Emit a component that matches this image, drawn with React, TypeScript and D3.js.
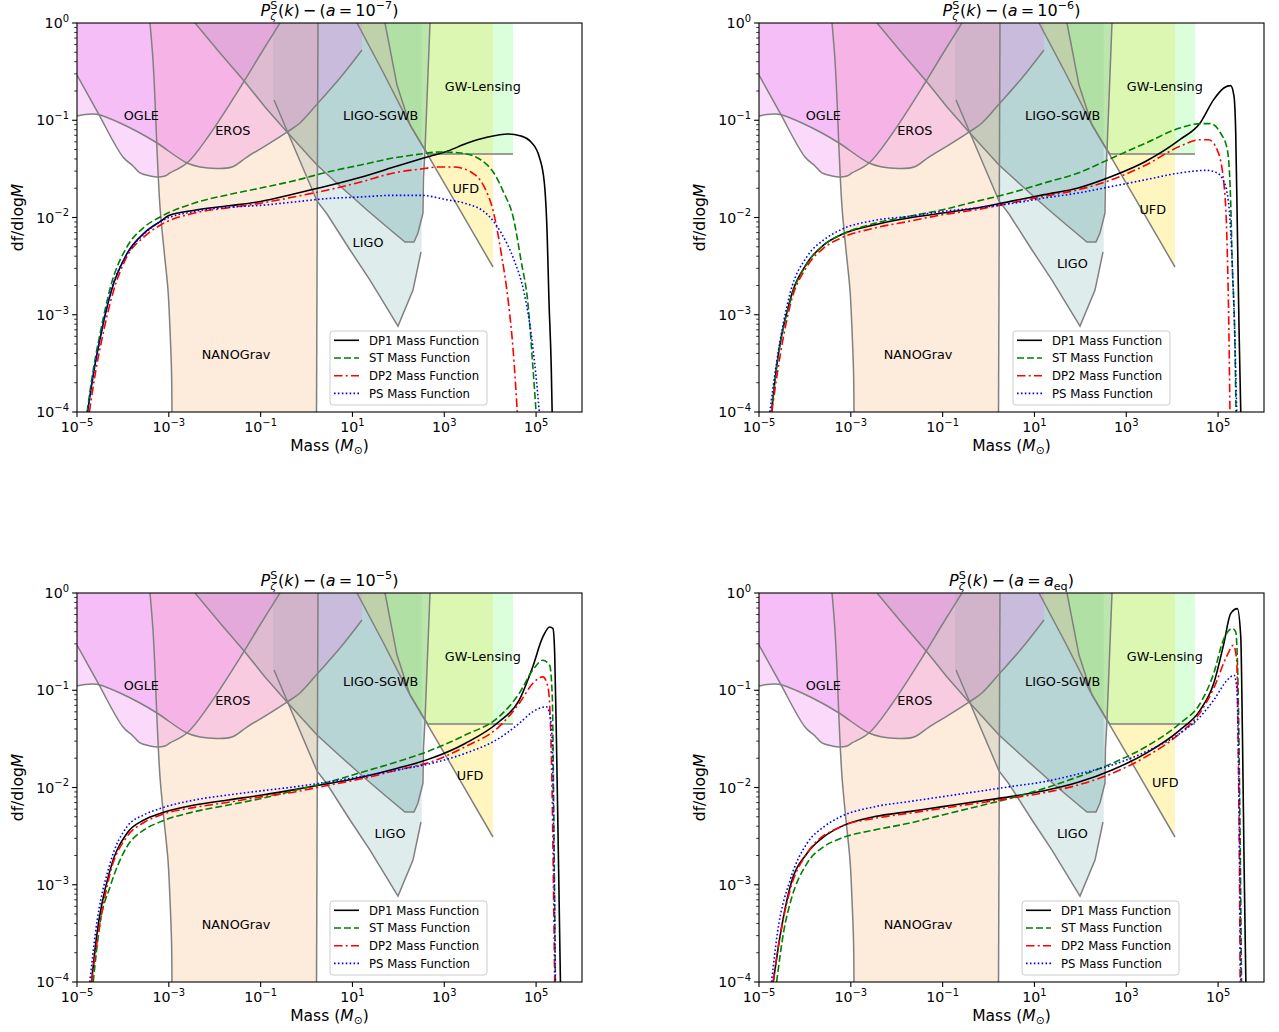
import React from 'react';
import * as d3 from 'd3';

type Pt = [number, number]; // [log10 M, log10 f]

// ---- constraint boundaries (log10 M, log10 f) ----
const ogleEdge: Pt[] = [
  [-5, -0.535], [-4.543, -0.925], [-3.998, -1.378], [-3.78, -1.47], [-3.628, -1.542],
  [-3.41, -1.573], [-3.257, -1.584], [-3.083, -1.573], [-2.974, -1.542], [-2.604, -1.44],
  [-2.103, -1.141], [-1.384, -0.617], [-1.014, -0.329], [-0.579, 0],
];
const ogleCap: Pt[] = [[-5, 0]];

const erosEdge: Pt[] = [
  [-5, -0.956], [-4.826, -0.941], [-4.651, -0.936], [-4.499, -0.946], [-4.063, -1.028],
  [-3.628, -1.131], [-3.257, -1.234], [-2.604, -1.44], [-2.321, -1.481], [-1.951, -1.496],
  [-1.624, -1.481], [-1.298, -1.378], [-0.905, -1.265], [-0.426, -1.121], [-0.143, -1.028],
  [0.249, -0.823], [0.729, -0.566], [1.208, -0.278],
];
const erosCap: Pt[] = [[1.208, 0], [-5, 0]];

const nanoLeft: Pt[] = [
  [-3.41, 0], [-3.345, -0.38], [-3.301, -0.792], [-3.257, -1.306], [-3.192, -1.892],
  [-3.105, -2.334], [-3.018, -2.746], [-2.974, -3.157], [-2.942, -3.568], [-2.931, -4],
];
const nanoRight: Pt[] = [[0.217, -4], [0.249, 0]];

const sgwbEdge: Pt[] = [
  [-2.43, 0], [-1.885, -0.308], [-1.341, -0.607], [-0.905, -0.864], [-0.426, -1.121],
  [0.228, -1.46], [0.729, -1.676], [1.317, -1.923], [1.752, -2.098], [2.144, -2.252],
  [2.34, -2.252], [2.427, -2.159], [2.536, -1.954], [2.547, -1.594], [2.58, -1.316], [2.689, 0],
];

const ligoEdge: Pt[] = [
  [-0.709, -0.792], [0.228, -1.83], [0.446, -1.964], [0.947, -2.334], [1.382, -2.643],
  [1.992, -3.116], [2.319, -2.746], [2.493, -2.355],
];
const ligoCapStart: Pt[] = [[-0.731, 0], [-0.731, -0.792]];
const ligoCapEnd: Pt[] = [[2.508, -2.355], [2.508, 0]];

const ufdEdge: Pt[] = [
  [1.099, 0], [1.665, -0.504], [2.21, -1.008], [2.58, -1.306], [3.342, -1.923], [4.061, -2.509],
];
const ufdCap: Pt[] = [[4.061, 0]];

const gwlEdge: Pt[] = [
  [1.709, 0], [1.97, -0.638], [2.253, -1.049], [2.58, -1.306], [2.645, -1.347], [4.497, -1.347],
];
const gwlCap: Pt[] = [[4.497, 0]];

// ---- mass functions, a = 1e-7 ----
const dp1A7: Pt[] = [
  [-4.77, -4], [-4.64, -3.6], [-4.5, -3.25], [-4.25, -2.75], [-3.91, -2.37], [-3.54, -2.16],
  [-3.17, -2.035], [-3.0, -1.98], [-2.44, -1.925], [-1.7, -1.88], [-1.0, -1.835], [-0.28, -1.758],
  [0.24, -1.7], [1.18, -1.586], [1.9, -1.481], [2.55, -1.388], [3.08, -1.316], [3.49, -1.237],
  [3.95, -1.172], [4.39, -1.141], [4.67, -1.162], [4.89, -1.224], [5.07, -1.378], [5.18, -1.645],
  [5.24, -2.159], [5.28, -2.848], [5.33, -3.537], [5.35, -4],
];
const stA7: Pt[] = [
  [-4.78, -4], [-4.64, -3.55], [-4.5, -3.2], [-4.25, -2.68], [-3.91, -2.3], [-3.54, -2.1],
  [-3.17, -1.99], [-2.44, -1.851], [-1.7, -1.765], [-1.0, -1.697], [-0.2, -1.614], [0.46, -1.532],
  [1.18, -1.46], [1.9, -1.388], [2.49, -1.347], [2.9, -1.326], [3.36, -1.337], [3.8, -1.409],
  [4.08, -1.542], [4.3, -1.748], [4.5, -1.995], [4.67, -2.437], [4.83, -2.92], [4.93, -3.537], [5.0, -4],
];
const dp2A7: Pt[] = [
  [-4.73, -4], [-4.6, -3.6], [-4.47, -3.28], [-4.22, -2.78], [-3.91, -2.4], [-3.54, -2.2],
  [-3.17, -2.074], [-2.44, -1.954], [-1.7, -1.9], [-1.0, -1.853], [-0.28, -1.789], [0.46, -1.717],
  [1.18, -1.635], [1.9, -1.542], [2.49, -1.501], [2.86, -1.481], [3.21, -1.481], [3.58, -1.532],
  [3.87, -1.686], [4.06, -1.923], [4.24, -2.365], [4.39, -2.848], [4.5, -3.362], [4.59, -4],
];
const psA7: Pt[] = [
  [-4.77, -4], [-4.64, -3.6], [-4.5, -3.25], [-4.25, -2.74], [-3.91, -2.38], [-3.54, -2.17],
  [-3.17, -2.04], [-2.44, -1.937], [-1.7, -1.895], [-1.0, -1.875], [-0.28, -1.841], [0.46, -1.805],
  [1.18, -1.789], [1.9, -1.772], [2.49, -1.772], [3.08, -1.82], [3.43, -1.851], [3.95, -1.974],
  [4.24, -2.159], [4.52, -2.437], [4.74, -2.776], [4.89, -3.188], [5.0, -3.64], [5.07, -4],
];

// ---- a = 1e-6 ----
const dp1A6: Pt[] = [
  [-4.727, -4], [-4.616, -3.53], [-4.321, -2.845], [-3.952, -2.468], [-3.583, -2.279], [-3.214, -2.177],
  [-2.476, -2.074], [-1.738, -2.005], [-1.0, -1.954], [-0.262, -1.902], [0.476, -1.834], [1.214, -1.765],
  [1.952, -1.697], [2.69, -1.577], [3.428, -1.422], [4.166, -1.2], [4.609, -1.028], [4.904, -0.788],
  [5.125, -0.668], [5.273, -0.644], [5.347, -0.754], [5.384, -1.131], [5.421, -2.159], [5.458, -3.188], [5.494, -4],
];
const stA6: Pt[] = [
  [-4.73, -4], [-4.62, -3.55], [-4.32, -2.86], [-3.95, -2.47], [-3.58, -2.28], [-3.214, -2.177],
  [-2.476, -2.06], [-1.738, -1.988], [-1.0, -1.92], [-0.262, -1.834], [0.476, -1.748], [1.214, -1.645],
  [1.952, -1.542], [2.69, -1.388], [3.428, -1.234], [4.166, -1.08], [4.609, -1.035], [4.83, -1.035],
  [5.052, -1.131], [5.2, -1.3], [5.273, -1.817], [5.31, -2.502], [5.362, -3.188], [5.39, -4],
];
const dp2A6: Pt[] = [
  [-4.72, -4], [-4.6, -3.6], [-4.32, -2.9], [-3.95, -2.5], [-3.58, -2.31], [-3.214, -2.211],
  [-2.476, -2.108], [-1.738, -2.04], [-1.0, -1.971], [-0.262, -1.92], [0.476, -1.851], [1.214, -1.782],
  [1.952, -1.715], [2.69, -1.61], [3.428, -1.46], [4.166, -1.268], [4.609, -1.2], [4.793, -1.2],
  [4.978, -1.302], [5.125, -1.645], [5.199, -2.33], [5.236, -3.188], [5.258, -4],
];
const psA6: Pt[] = [
  [-4.764, -4], [-4.62, -3.5], [-4.321, -2.776], [-3.952, -2.4], [-3.583, -2.228], [-3.214, -2.125],
  [-2.476, -2.029], [-1.738, -1.988], [-1.0, -1.937], [-0.262, -1.902], [0.476, -1.858], [1.214, -1.8],
  [1.952, -1.748], [2.69, -1.68], [3.428, -1.611], [4.166, -1.542], [4.756, -1.515], [4.978, -1.542],
  [5.125, -1.628], [5.236, -1.885], [5.31, -2.502], [5.362, -3.188], [5.406, -4],
];

// ---- a = 1e-5 ----
const dp1A5: Pt[] = [
  [-4.683, -4], [-4.573, -3.531], [-4.278, -2.847], [-3.91, -2.47], [-3.542, -2.334], [-3.174, -2.265],
  [-2.437, -2.18], [-1.7, -2.128], [-0.965, -2.077], [-0.228, -2.019], [0.508, -1.957], [1.245, -1.889],
  [1.98, -1.803], [2.717, -1.7], [3.454, -1.547], [4.19, -1.324], [4.632, -1.102], [4.926, -0.76],
  [5.147, -0.452], [5.295, -0.349], [5.368, -0.366], [5.405, -0.623], [5.442, -1.478], [5.479, -2.505], [5.53, -4],
];
const stA5: Pt[] = [
  [-4.647, -4], [-4.5, -3.4], [-4.278, -3.018], [-3.91, -2.607], [-3.542, -2.436], [-3.174, -2.351],
  [-2.437, -2.248], [-1.7, -2.18], [-0.965, -2.111], [-0.228, -2.026], [0.508, -1.94], [1.245, -1.837],
  [1.98, -1.735], [2.717, -1.615], [3.454, -1.461], [4.19, -1.273], [4.632, -1.033], [4.926, -0.794],
  [5.147, -0.691], [5.295, -0.743], [5.353, -1.068], [5.383, -2.163], [5.42, -4],
];
const dp2A5: Pt[] = [
  [-4.683, -4], [-4.55, -3.55], [-4.278, -2.881], [-3.91, -2.505], [-3.542, -2.36], [-3.174, -2.282],
  [-2.437, -2.204], [-1.7, -2.152], [-0.965, -2.094], [-0.228, -2.043], [0.508, -1.974], [1.245, -1.906],
  [1.98, -1.82], [2.717, -1.735], [3.454, -1.581], [4.19, -1.376], [4.632, -1.136], [4.926, -0.931],
  [5.147, -0.862], [5.258, -0.965], [5.31, -1.307], [5.353, -2.163], [5.383, -3.189], [5.405, -4],
];
const psA5: Pt[] = [
  [-4.72, -4], [-4.6, -3.5], [-4.278, -2.778], [-3.91, -2.402], [-3.542, -2.282], [-3.174, -2.214],
  [-2.437, -2.128], [-1.7, -2.077], [-0.965, -2.033], [-0.228, -1.991], [0.508, -1.94], [1.245, -1.882],
  [1.98, -1.82], [2.717, -1.752], [3.454, -1.649], [4.19, -1.495], [4.632, -1.341], [4.926, -1.222],
  [5.221, -1.17], [5.295, -1.239], [5.353, -1.547], [5.383, -2.505], [5.42, -4],
];

// ---- a = a_eq ----
const dp1Aeq: Pt[] = [
  [-4.69, -4], [-4.542, -3.531], [-4.321, -3.018], [-3.952, -2.676], [-3.583, -2.505], [-3.214, -2.402],
  [-2.476, -2.299], [-1.738, -2.248], [-1.0, -2.197], [-0.262, -2.145], [0.476, -2.094], [1.214, -2.033],
  [1.952, -1.947], [2.69, -1.82], [3.428, -1.649], [4.166, -1.41], [4.609, -1.204], [4.904, -0.931],
  [5.125, -0.52], [5.273, -0.212], [5.42, -0.161], [5.494, -0.452], [5.531, -1.478], [5.568, -2.847], [5.605, -4],
];
const stAeq: Pt[] = [
  [-4.616, -4], [-4.45, -3.45], [-4.321, -3.189], [-3.952, -2.778], [-3.583, -2.607], [-3.214, -2.522],
  [-2.476, -2.436], [-1.738, -2.368], [-1.0, -2.282], [-0.262, -2.197], [0.476, -2.111], [1.214, -2.009],
  [1.952, -1.889], [2.69, -1.752], [3.428, -1.581], [4.166, -1.341], [4.609, -1.136], [4.904, -0.828],
  [5.125, -0.47], [5.31, -0.366], [5.384, -0.4], [5.435, -0.965], [5.48, -2.505], [5.51, -4],
];
const dp2Aeq: Pt[] = [
  [-4.69, -4], [-4.55, -3.55], [-4.321, -3.052], [-3.952, -2.676], [-3.214, -2.402], [-2.476, -2.317],
  [-1.738, -2.265], [-1.0, -2.214], [-0.262, -2.163], [0.476, -2.111], [1.214, -2.053], [1.952, -1.974],
  [2.69, -1.855], [3.428, -1.683], [4.166, -1.444], [4.609, -1.23], [4.904, -0.98], [5.199, -0.64],
  [5.332, -0.537], [5.406, -0.691], [5.435, -1.478], [5.465, -2.847], [5.48, -4],
];
const psAeq: Pt[] = [
  [-4.727, -4], [-4.6, -3.5], [-4.321, -2.95], [-3.952, -2.573], [-3.583, -2.402], [-3.214, -2.299],
  [-2.476, -2.197], [-1.738, -2.145], [-1.0, -2.094], [-0.262, -2.043], [0.476, -1.991], [1.214, -1.94],
  [1.952, -1.861], [2.69, -1.769], [3.428, -1.632], [4.166, -1.444], [4.609, -1.273], [4.904, -1.102],
  [5.199, -0.896], [5.347, -0.845], [5.406, -0.965], [5.458, -2.163], [5.494, -4],
];

// ---- region label positions per panel (log10 M, log10 f) ----
type Lbl = [string, number, number];
const labelsA7: Lbl[] = [
  ['OGLE', -3.6, -0.953], ['EROS', -1.605, -1.107], ['NANOGrav', -1.535, -3.41],
  ['LIGO-SGWB', 1.615, -0.953], ['LIGO', 1.34, -2.255], ['GW-Lensing', 3.84, -0.651], ['UFD', 3.468, -1.697],
];
const labelsA6: Lbl[] = [
  ['OGLE', -3.6, -0.953], ['EROS', -1.605, -1.107], ['NANOGrav', -1.535, -3.41],
  ['LIGO-SGWB', 1.615, -0.953], ['LIGO', 1.827, -2.478], ['GW-Lensing', 3.84, -0.651], ['UFD', 3.576, -1.913],
];
const labelsA5: Lbl[] = [
  ['OGLE', -3.6, -0.953], ['EROS', -1.605, -1.107], ['NANOGrav', -1.535, -3.41],
  ['LIGO-SGWB', 1.615, -0.914], ['LIGO', 1.819, -2.477], ['GW-Lensing', 3.84, -0.651], ['UFD', 3.564, -1.872],
];
const labelsAeq: Lbl[] = [
  ['OGLE', -3.6, -0.953], ['EROS', -1.605, -1.107], ['NANOGrav', -1.535, -3.41],
  ['LIGO-SGWB', 1.615, -0.914], ['LIGO', 1.827, -2.477], ['GW-Lensing', 3.84, -0.651], ['UFD', 3.849, -1.95],
];

const seriesNames = ['DP1 Mass Function', 'ST Mass Function', 'DP2 Mass Function', 'PS Mass Function'];
const xTickExps = [-5, -3, -1, 1, 3, 5];
const yTickExps = [0, -1, -2, -3, -4];

// ---- layout / styling ----
const W = 505;
const H = 389;
const FONT = 'DejaVu Sans, Liberation Sans, sans-serif';
const STROKE = '#808080';
const TICK_FS = 14.2;

const seriesStyle = [
  { color: '#000000', dash: undefined as string | undefined },
  { color: '#008000', dash: '7,3' },
  { color: '#ff0000', dash: '8.5,3.2,2,3.2' },
  { color: '#0000ff', dash: '1.6,2.3' },
];

const x = d3.scaleLog().domain([1e-5, 1e6]).range([0, W]);
const y = d3.scaleLog().domain([1e-4, 1]).range([H, 0]);
const px = (p: Pt) => x(Math.pow(10, p[0]));
const py = (p: Pt) => y(Math.pow(10, p[1]));

const straight = d3.line<Pt>().x(px).y(py);
const smoothEdge = d3.line<Pt>().x(px).y(py).curve(d3.curveCatmullRom.alpha(0.5));
const smoothCurve = d3.line<Pt>().x(px).y(py).curve(d3.curveMonotoneX);

const caps = (pts: Pt[]) => pts.map((p) => `L${px(p)},${py(p)}`).join('');

const ogleFill = smoothEdge(ogleEdge) + caps(ogleCap) + 'Z';
const erosFill = smoothEdge(erosEdge) + caps(erosCap) + 'Z';
const nanoFill = smoothEdge(nanoLeft) + caps(nanoRight) + 'Z';
const sgwbFill = straight(sgwbEdge) + 'Z';
const ligoFill = straight([...ligoCapStart, ...ligoEdge, ...ligoCapEnd]) + 'Z';
const ufdFill = straight(ufdEdge) + caps(ufdCap) + 'Z';
const gwlFill = straight(gwlEdge) + caps(gwlCap) + 'Z';

// drawing order matters for the alpha blend
const regionFills = [
  { d: ligoFill, color: '#5f9ea0', op: 0.2 },
  { d: ufdFill, color: '#ffd700', op: 0.25 },
  { d: sgwbFill, color: '#5f9ea0', op: 0.3 },
  { d: nanoFill, color: '#f4a460', op: 0.22 },
  { d: ogleFill, color: '#ee82ee', op: 0.3 },
  { d: erosFill, color: '#ee82ee', op: 0.3 },
  { d: gwlFill, color: '#98fb98', op: 0.35 },
];
const regionEdges = [
  smoothEdge(ogleEdge),
  smoothEdge(erosEdge),
  smoothEdge(nanoLeft),
  straight(nanoRight),
  straight(sgwbEdge),
  straight(ligoEdge),
  straight(ufdEdge),
  straight(gwlEdge),
];

const minorTicks: number[] = [];
for (let k = -4; k < 0; k++) for (let m = 2; m <= 9; m++) minorTicks.push(m * Math.pow(10, k));

const Pow10 = ({ e, size }: { e: number; size: number }) => (
  <>
    <tspan>10</tspan>
    <tspan fontSize={size * 0.7} dy={-size * 0.43}>
      {e < 0 ? '\u2212' + Math.abs(e) : String(e)}
    </tspan>
  </>
);

const Title = ({ kind }: { kind: string }) => {
  const fs = 16;
  const ss = 11.2;
  return (
    <text x={W / 2} y={-7} textAnchor="middle" fontSize={fs} fontFamily={FONT}>
      <tspan fontStyle="italic">P</tspan>
      <tspan fontSize={ss} dy={-7}>S</tspan>
      <tspan fontSize={ss} fontStyle="italic" dx={-7.1} dy={10.5}>ζ</tspan>
      <tspan dx={1.6} dy={-3.5}>(</tspan>
      <tspan fontStyle="italic">k</tspan>
      <tspan>){'\u2009'}{'\u2212'}{'\u2009'}(</tspan>
      <tspan fontStyle="italic">a</tspan>
      <tspan>{'\u2009'}={'\u2009'}</tspan>
      {kind === 'eq' ? (
        <>
          <tspan fontStyle="italic">a</tspan>
          <tspan fontSize={ss} dy={3.5}>eq</tspan>
          <tspan dy={-3.5}>)</tspan>
        </>
      ) : (
        <>
          <tspan>10</tspan>
          <tspan fontSize={ss} dy={-7}>{'\u2212' + kind}</tspan>
          <tspan dy={7}>)</tspan>
        </>
      )}
    </text>
  );
};

type PanelProps = {
  id: string;
  left: number;
  top: number;
  kind: string;
  curves: Pt[][];
  labels: Lbl[];
  legendX: number;
};

const Panel = ({ id, left, top, kind, curves, labels, legendX }: PanelProps) => (
  <g transform={`translate(${left},${top})`}>
    <defs>
      <clipPath id={`clip-${id}`}>
        <rect x={0} y={0} width={W} height={H} />
      </clipPath>
    </defs>
    <g clipPath={`url(#clip-${id})`}>
      {regionFills.map((r, i) => (
        <path key={i} d={r.d} fill={r.color} fillOpacity={r.op} stroke="none" />
      ))}
      {regionEdges.map((d, i) => (
        <path key={i} d={d as string} fill="none" stroke={STROKE} strokeWidth={1.5} />
      ))}
      {curves.map((c, i) => (
        <path
          key={i}
          d={smoothCurve(c) as string}
          fill="none"
          stroke={seriesStyle[i].color}
          strokeWidth={1.6}
          strokeDasharray={seriesStyle[i].dash}
        />
      ))}
    </g>
    {labels.map(([t, lx, ly]) => (
      <text
        key={t}
        x={px([lx, ly])}
        y={py([lx, ly])}
        textAnchor="middle"
        dominantBaseline="central"
        fontSize={12.8}
        fontFamily={FONT}
        fill="#000"
      >
        {t}
      </text>
    ))}
    {/* axes frame */}
    <rect x={0} y={0} width={W} height={H} fill="none" stroke="#000" strokeWidth={1.1} />
    {/* y ticks */}
    {yTickExps.map((e) => {
      const yy = y(Math.pow(10, e));
      return (
        <g key={e}>
          <line x1={-4.9} x2={0} y1={yy} y2={yy} stroke="#000" strokeWidth={1.1} />
          <text x={-8} y={yy + 5} textAnchor="end" fontSize={TICK_FS} fontFamily={FONT}>
            <Pow10 e={e} size={TICK_FS} />
          </text>
        </g>
      );
    })}
    {minorTicks.map((v, i) => (
      <line key={i} x1={-2.8} x2={0} y1={y(v)} y2={y(v)} stroke="#000" strokeWidth={0.8} />
    ))}
    {/* x ticks */}
    {xTickExps.map((e) => {
      const xx = x(Math.pow(10, e));
      return (
        <g key={e}>
          <line x1={xx} x2={xx} y1={H} y2={H + 4.9} stroke="#000" strokeWidth={1.1} />
          <text x={xx} y={H + 20} textAnchor="middle" fontSize={TICK_FS} fontFamily={FONT}>
            <Pow10 e={e} size={TICK_FS} />
          </text>
        </g>
      );
    })}
    <Title kind={kind} />
    <text x={W / 2} y={H + 39} textAnchor="middle" fontSize={15.5} fontFamily={FONT}>
      <tspan>Mass (</tspan>
      <tspan fontStyle="italic">M</tspan>
      <tspan fontSize={10.8} dy={3}>⊙</tspan>
      <tspan dy={-3}>)</tspan>
    </text>
    <text
      transform={`translate(-54,${H / 2}) rotate(-90)`}
      textAnchor="middle"
      fontSize={15.5}
      fontFamily={FONT}
    >
      <tspan>df/dlog</tspan>
      <tspan fontStyle="italic">M</tspan>
    </text>
    {/* legend */}
    <g transform={`translate(${legendX},308)`}>
      <rect x={0} y={0} width={157} height={74} rx={3} fill="#fff" fillOpacity={0.8} stroke="#cccccc" strokeWidth={1} />
      {seriesNames.map((name, i) => {
        const ry = 9.3 + i * 17.7;
        return (
          <g key={name}>
            <line
              x1={4}
              x2={29}
              y1={ry}
              y2={ry}
              stroke={seriesStyle[i].color}
              strokeWidth={1.6}
              strokeDasharray={seriesStyle[i].dash}
            />
            <text x={39} y={ry + 4.2} fontSize={11.7} fontFamily={FONT}>
              {name}
            </text>
          </g>
        );
      })}
    </g>
  </g>
);

export default function App() {
  return (
    <svg
      width={1279}
      height={1032}
      style={{ position: 'absolute', left: 0, top: 0, display: 'block', background: '#fff' }}
    >
      <rect width={1279} height={1032} fill="#fff" />
      <Panel id="p1" left={77} top={23} kind="7" curves={[dp1A7, stA7, dp2A7, psA7]} labels={labelsA7} legendX={253} />
      <Panel id="p2" left={759} top={23} kind="6" curves={[dp1A6, stA6, dp2A6, psA6]} labels={labelsA6} legendX={254} />
      <Panel id="p3" left={77} top={593} kind="5" curves={[dp1A5, stA5, dp2A5, psA5]} labels={labelsA5} legendX={253} />
      <Panel id="p4" left={759} top={593} kind="eq" curves={[dp1Aeq, stAeq, dp2Aeq, psAeq]} labels={labelsAeq} legendX={263} />
    </svg>
  );
}
